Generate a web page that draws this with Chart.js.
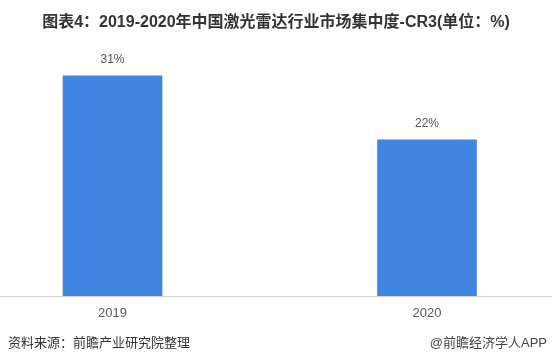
<!DOCTYPE html>
<html>
<head>
<meta charset="utf-8">
<script src="https://cdn.jsdelivr.net/npm/chart.js@4.4.1/dist/chart.umd.min.js"></script>
<style>
  html, body { margin: 0; padding: 0; background: #fff; }
  body { width: 552px; height: 363px; position: relative; overflow: hidden;
         font-family: "Liberation Sans", "Noto Sans CJK SC", sans-serif; }
  #wrap { position: absolute; left: 0; top: 0; width: 552px; height: 363px; }
  #title { position: absolute; left: 0; top: 12px; width: 552px; text-align: center;
           font-size: 16px; font-weight: bold; color: #333; line-height: 20px; white-space: nowrap; }
  .foot { position: absolute; top: 335px; font-size: 13px; color: #333; line-height: 16px; white-space: nowrap; }
  #src { left: 8px; }
  #app { right: 5px; color: #444; }
</style>
</head>
<body>
<div id="wrap"><canvas id="c" width="552" height="363"></canvas></div>
<div id="title">图表4：2019-2020年中国激光雷达行业市场集中度-CR3(单位：%)</div>
<div class="foot" id="src">资料来源：前瞻产业研究院整理</div>
<div class="foot" id="app">@前瞻经济学人APP</div>
<script>
const categories = ['2019', '2020'];
const cr3Values = [31, 22];
const valueSuffix = '%';

const valueLabels = {
  id: 'valueLabels',
  afterDatasetsDraw(chart) {
    const ctx = chart.ctx;
    const meta = chart.getDatasetMeta(0);
    ctx.save();
    ctx.font = '12px "Liberation Sans", "DejaVu Sans", sans-serif';
    ctx.fillStyle = '#555';
    ctx.textAlign = 'center';
    ctx.textBaseline = 'middle';
    meta.data.forEach((bar, i) => {
      ctx.fillText(cr3Values[i] + valueSuffix, bar.x, bar.y - 16);
    });
    ctx.restore();
  }
};

const fullAxisLine = {
  id: 'fullAxisLine',
  afterDatasetsDraw(chart) {
    const ctx = chart.ctx;
    const y = Math.round(chart.scales.y.getPixelForValue(0)) + 0.5;
    ctx.save();
    ctx.strokeStyle = '#d4d4d4';
    ctx.lineWidth = 1;
    ctx.beginPath();
    ctx.moveTo(0, y);
    ctx.lineTo(chart.width, y);
    ctx.stroke();
    ctx.restore();
  }
};

new Chart(document.getElementById('c'), {
  type: 'bar',
  data: {
    labels: categories,
    datasets: [{
      data: cr3Values,
      backgroundColor: '#3f84e0',
      barThickness: 99,
      clip: false
    }]
  },
  options: {
    responsive: false,
    animation: false,
    layout: { padding: { left: 112.5, right: 125, top: 12, bottom: 0 } },
    plugins: { legend: { display: false }, tooltip: { enabled: false } },
    scales: {
      x: {
        offset: false,
        grid: { display: false, drawTicks: false },
        border: { display: false },
        ticks: { color: '#595959', padding: 10, font: { size: 13, family: '"Liberation Sans", sans-serif' }, maxRotation: 0 },
        afterFit(scale) { scale.height = 67; }
      },
      y: {
        display: false,
        min: 0,
        max: 40
      }
    }
  },
  plugins: [valueLabels, fullAxisLine]
});
</script>
</body>
</html>
